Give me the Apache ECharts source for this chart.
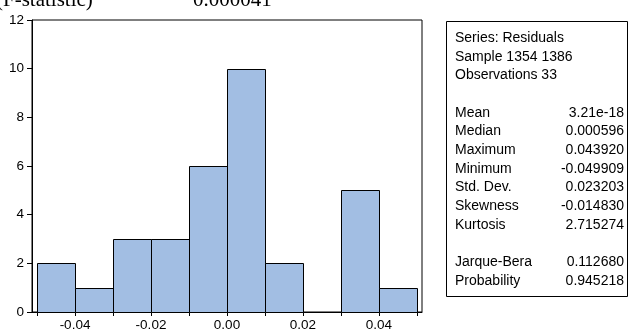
<!DOCTYPE html>
<html>
<head>
<meta charset="utf-8">
<script src="https://cdn.jsdelivr.net/npm/echarts@6/dist/echarts.min.js"></script>
<style>
  html, body { margin: 0; padding: 0; background: #fff; }
  #chart { width: 630px; height: 333px; }
</style>
</head>
<body>
<div id="chart"></div>
<script>
// Residual histogram: bins of width 0.01 from -0.05 to 0.05
const binStarts = [-0.05, -0.04, -0.03, -0.02, -0.01, 0.00, 0.01, 0.02, 0.03, 0.04];
const binWidth = 0.01;
const counts = [2, 1, 3, 3, 6, 10, 2, 0, 5, 1];

const xTickValues = [-0.05, -0.04, -0.03, -0.02, -0.01, 0, 0.01, 0.02, 0.03, 0.04, 0.05];
const xLabelValues = [-0.04, -0.02, 0, 0.02, 0.04];

// Descriptive statistics panel
const headerLines = ['Series: Residuals', 'Sample 1354 1386', 'Observations 33'];
const statNames = ['Mean', 'Median', 'Maximum', 'Minimum', 'Std. Dev.', 'Skewness', 'Kurtosis'];
const statValues = ['3.21e-18', '0.000596', '0.043920', '-0.049909', '0.023203', '-0.014830', '2.715274'];
const testNames = ['Jarque-Bera', 'Probability'];
const testValues = ['0.112680', '0.945218'];

// Fragment of the line above the chart
const topLabel = '(F-statistic)';
const topValue = '0.000041';

const sans = 'Arial, "Liberation Sans", sans-serif';
const serif = '"Times New Roman", "Liberation Serif", serif';

const chart = echarts.init(document.getElementById('chart'), null, { renderer: 'canvas' });

const bars = binStarts.map((s, i) => [s, s + binWidth, counts[i]]);

// Statistics box text
const boxLeft = 446, boxTop = 21, boxW = 181, boxH = 275;
const textX = 455, valueX = 624, firstY = 38, step = 18.7;
const statText = [];
function addLine(idx, name, value) {
  const y = firstY + idx * step;
  statText.push({ type: 'text', x: textX, y: y,
    style: { text: name, font: '14px ' + sans, fill: '#000', textVerticalAlign: 'middle', textAlign: 'left' } });
  if (value !== undefined) {
    statText.push({ type: 'text', x: valueX, y: y,
      style: { text: value, font: '14px ' + sans, fill: '#000', textVerticalAlign: 'middle', textAlign: 'right' } });
  }
}
headerLines.forEach((t, i) => addLine(i, t));
statNames.forEach((n, i) => addLine(4 + i, n, statValues[i]));
testNames.forEach((n, i) => addLine(12 + i, n, testValues[i]));

chart.setOption({
  animation: false,
  grid: {
    left: 32, right: 208, top: 20, bottom: 21,
    show: true, borderColor: '#000', borderWidth: 1, backgroundColor: 'transparent'
  },
  xAxis: {
    type: 'value',
    position: 'bottom',
    min: -0.05132, max: 0.05132,
    splitLine: { show: false },
    axisLine: { show: true, onZero: false, lineStyle: { color: '#000', width: 1 } },
    axisTick: { show: true, inside: false, length: 4, customValues: xTickValues, lineStyle: { color: '#000' } },
    axisLabel: {
      customValues: xLabelValues,
      formatter: v => v.toFixed(2),
      color: '#000', fontSize: 13.5, fontFamily: sans, margin: 6
    }
  },
  yAxis: {
    type: 'value',
    position: 'left',
    min: 0, max: 12, interval: 2,
    splitLine: { show: false },
    axisLine: { show: true, onZero: false, lineStyle: { color: '#000', width: 1 } },
    axisTick: { show: true, inside: false, length: 5, lineStyle: { color: '#000' } },
    axisLabel: { inside: false, color: '#000', fontSize: 13.5, fontFamily: sans, margin: 8 }
  },
  series: [{
    type: 'custom',
    data: bars,
    clip: false,
    renderItem: function (params, api) {
      if (api.value(2) <= 0) return null;
      const p0 = api.coord([api.value(0), api.value(2)]);
      const p1 = api.coord([api.value(1), 0]);
      return {
        type: 'rect',
        shape: {
          x: Math.round(p0[0]) + 0.5,
          y: Math.round(p0[1]) + 0.5,
          width: Math.round(p1[0]) - Math.round(p0[0]),
          height: Math.round(p1[1]) - Math.round(p0[1])
        },
        style: { fill: '#a2bee3', stroke: '#000', lineWidth: 1 }
      };
    }
  }],
  graphic: [
    { type: 'text', x: -4, y: 0,
      style: { text: topLabel, font: '21px ' + serif, fill: '#000', textVerticalAlign: 'middle' } },
    { type: 'text', x: 193, y: 0,
      style: { text: topValue, font: '21px ' + serif, fill: '#000', textVerticalAlign: 'middle' } },
    { type: 'rect', shape: { x: boxLeft + 0.5, y: boxTop + 0.5, width: boxW, height: boxH },
      style: { fill: '#fff', stroke: '#000', lineWidth: 1 } }
  ].concat(statText)
});
</script>
</body>
</html>
